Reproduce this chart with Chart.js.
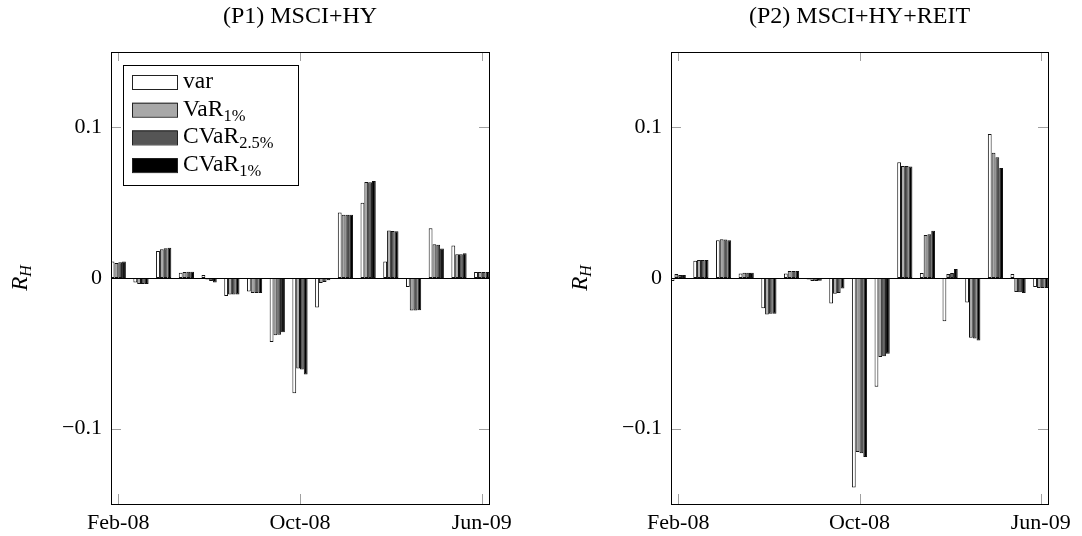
<!DOCTYPE html>
<html>
<head>
<meta charset="utf-8">
<script src="https://cdn.jsdelivr.net/npm/chart.js@4/dist/chart.umd.min.js"></script>
<style>
  html, body { margin: 0; padding: 0; background: #fff; }
  .wrap { position: relative; width: 1082px; height: 536px; }
  canvas { position: absolute; top: 0; }
</style>
</head>
<body>
<div class="wrap">
  <canvas id="p1" width="541" height="536" style="left:0"></canvas>
  <canvas id="p2" width="541" height="536" style="left:541px"></canvas>
</div>
<script>
/* ── Data ── */
const MONTHS = ['Feb-08','Mar-08','Apr-08','May-08','Jun-08','Jul-08','Aug-08','Sep-08','Oct-08',
                'Nov-08','Dec-08','Jan-09','Feb-09','Mar-09','Apr-09','May-09','Jun-09'];
const X_TICKS = ['Feb-08','Oct-08','Jun-09'];
const Y_TICKS = [-0.1, 0, 0.1];

const SERIES_NAME = ['var','VaR','CVaR','CVaR'];
const SERIES_SUB  = ['','1%','2.5%','1%'];
const SERIES_FILL = ['#ffffff','#a8a8a8','#555555','#000000'];

// (P1) MSCI+HY
const P1_VAR    = [0.011,-0.003, 0.018,0.0035, 0.002,-0.012,-0.009,-0.0425,-0.0765,-0.0195,0.0435,0.050,0.011,-0.006,0.033,0.0215,0.004];
const P1_VAR1   = [0.010,-0.004, 0.019,0.004, -0.001,-0.011,-0.010,-0.038, -0.060, -0.0033,0.042, 0.0637,0.0316,-0.0215,0.0224,0.0158,0.004];
const P1_CVAR25 = [0.0105,-0.004,0.0198,0.0042,-0.002,-0.011,-0.010,-0.0377,-0.0607,-0.0026,0.042,0.0635,0.0312,-0.0215,0.022,0.0158,0.004];
const P1_CVAR1  = [0.011,-0.004, 0.020,0.0042,-0.003,-0.011,-0.010,-0.036, -0.064, -0.0015,0.042, 0.0644,0.031,-0.0214,0.0196,0.0165,0.004];

// (P2) MSCI+HY+REIT
const P2_VAR    = [-0.002,0.0114,0.025, 0.003, -0.020, 0.003, -0.001,-0.017,-0.139, -0.0722,0.0769,0.0033,-0.0287,-0.0163,0.0956,0.0026,-0.006];
const P2_VAR1   = [0.0026,0.012, 0.0257,0.0035,-0.0243,0.0046,-0.002,-0.0104,-0.1155,-0.0525,0.0743,0.0286,0.0026,-0.0397,0.0831,-0.0093,-0.0066];
const P2_CVAR25 = [0.002, 0.012, 0.0255,0.0035,-0.0238,0.0046,-0.002,-0.010,-0.1163,-0.0519,0.0743,0.029, 0.0033,-0.0402,0.0802,-0.0095,-0.0066];
const P2_CVAR1  = [0.002, 0.012, 0.025, 0.0035,-0.0238,0.0046,-0.0018,-0.007,-0.1188,-0.0503,0.074, 0.0314,0.0059,-0.0415,0.073,-0.010,-0.0066];

/* ── Style ── */
const FONT = '"Liberation Serif", "DejaVu Serif", serif';
const TICK_GRAY = '#a0a0a0';

/* ── Decorations: frame, inside ticks, zero line, titles, legend ── */
const decor = {
  id: 'decor',
  afterDatasetsDraw(chart, args, opts) {
    const { ctx, chartArea: a, scales: { x, y } } = chart;
    ctx.save();
    // inside tick marks
    ctx.strokeStyle = TICK_GRAY; ctx.lineWidth = 1;
    ctx.beginPath();
    Y_TICKS.forEach(v => {
      const py = Math.round(y.getPixelForValue(v)) + 0.5;
      ctx.moveTo(a.left, py); ctx.lineTo(a.left + 10, py);
      ctx.moveTo(a.right, py); ctx.lineTo(a.right - 10, py);
    });
    X_TICKS.forEach(m => {
      const px = Math.round(x.getPixelForValue(MONTHS.indexOf(m))) + 0.5;
      ctx.moveTo(px, a.top); ctx.lineTo(px, a.top + 9);
      ctx.moveTo(px, a.bottom); ctx.lineTo(px, a.bottom - 10);
    });
    ctx.stroke();
    // zero line
    ctx.strokeStyle = '#000';
    const zy = Math.round(y.getPixelForValue(0)) + 0.5;
    ctx.beginPath(); ctx.moveTo(a.left, zy); ctx.lineTo(a.right, zy); ctx.stroke();
    // frame
    ctx.strokeRect(Math.round(a.left) + 0.5, Math.round(a.top) + 0.5, Math.round(a.right - a.left), Math.round(a.bottom - a.top));

    // plot title
    ctx.fillStyle = '#000';
    ctx.font = `24px ${FONT}`;
    ctx.textAlign = 'center'; ctx.textBaseline = 'alphabetic';
    ctx.fillText(opts.title, (a.left + a.right) / 2, 23);

    // y title R_H
    ctx.save();
    ctx.translate(opts.yTitleX, (a.top + a.bottom) / 2);
    ctx.rotate(-Math.PI / 2);
    ctx.textAlign = 'left';
    ctx.font = `italic 23px ${FONT}`;
    const rw = ctx.measureText('R').width;
    ctx.font = `italic 16px ${FONT}`;
    const hw = ctx.measureText('H').width;
    const sx = -(rw + hw) / 2;
    ctx.font = `italic 23px ${FONT}`;
    ctx.fillText('R', sx, 7);
    ctx.font = `italic 16px ${FONT}`;
    ctx.fillText('H', sx + rw, 11);
    ctx.restore();

    // legend
    if (opts.legend) {
      const lx = a.left + 12, ly = a.top + 13, lw = 175, lh = 120;
      ctx.fillStyle = '#fff';
      ctx.fillRect(lx, ly, lw, lh);
      ctx.strokeStyle = '#000';
      ctx.strokeRect(lx + 0.5, ly + 0.5, lw, lh);
      SERIES_NAME.forEach((name, i) => {
        const cy = ly + 17 + i * 27.7;
        ctx.fillStyle = SERIES_FILL[i];
        ctx.fillRect(lx + 9, cy - 7, 45, 14);
        ctx.strokeStyle = '#222';
        ctx.strokeRect(lx + 9.5, cy - 6.5, 45, 14);
        ctx.fillStyle = '#000';
        ctx.textAlign = 'left'; ctx.textBaseline = 'alphabetic';
        ctx.font = `23.5px ${FONT}`;
        ctx.fillText(name, lx + 60, cy + 6);
        if (SERIES_SUB[i]) {
          const w = ctx.measureText(name).width;
          ctx.font = `16.5px ${FONT}`;
          ctx.fillText(SERIES_SUB[i], lx + 60 + w, cy + 11);
        }
      });
    }
    ctx.restore();
  }
};

/* ── Build ── */
function toPoints(arr) { return arr.map((v, i) => ({ x: i, y: v })); }

function makePanel(id, title, series, yW, padRight, yTitleX, legend) {
  new Chart(document.getElementById(id), {
    type: 'bar',
    data: {
      datasets: series.map((s, i) => ({
        label: SERIES_NAME[i] + SERIES_SUB[i],
        data: toPoints(s),
        backgroundColor: SERIES_FILL[i],
        borderColor: '#111',
        borderWidth: 1,
        borderSkipped: false,
        barPercentage: 1,
        categoryPercentage: 0.67
      }))
    },
    options: {
      responsive: false, animation: false,
      layout: { padding: { top: 52, right: padRight, left: 0, bottom: 0 } },
      plugins: { legend: { display: false }, tooltip: { enabled: false }, decor: { title, yTitleX, legend } },
      scales: {
        x: {
          type: 'linear', min: -0.32, max: 16.32, offset: false,
          grid: { display: false, drawTicks: false, offset: false }, border: { display: false },
          afterBuildTicks: s => { s.ticks = X_TICKS.map(m => ({ value: MONTHS.indexOf(m) })); },
          ticks: { callback: v => MONTHS[v], font: { family: FONT, size: 22 }, color: '#000', maxRotation: 0, autoSkip: false, padding: 6 },
          afterFit: s => { s.height = 32; }
        },
        y: {
          min: -0.15, max: 0.15,
          grid: { display: false, drawTicks: false }, border: { display: false },
          afterBuildTicks: s => { s.ticks = Y_TICKS.map(v => ({ value: v })); },
          ticks: { callback: v => v < 0 ? '\u2212' + Math.abs(v) : String(v), font: { family: FONT, size: 22 }, color: '#000', padding: 9 },
          afterFit: s => { s.width = yW; }
        }
      }
    },
    plugins: [decor]
  });
}

makePanel('p1', '(P1) MSCI+HY', [P1_VAR, P1_VAR1, P1_CVAR25, P1_CVAR1], 111, 52, 20, true);
makePanel('p2', '(P2) MSCI+HY+REIT', [P2_VAR, P2_VAR1, P2_CVAR25, P2_CVAR1], 130, 34, 39, false);
</script>
</body>
</html>
